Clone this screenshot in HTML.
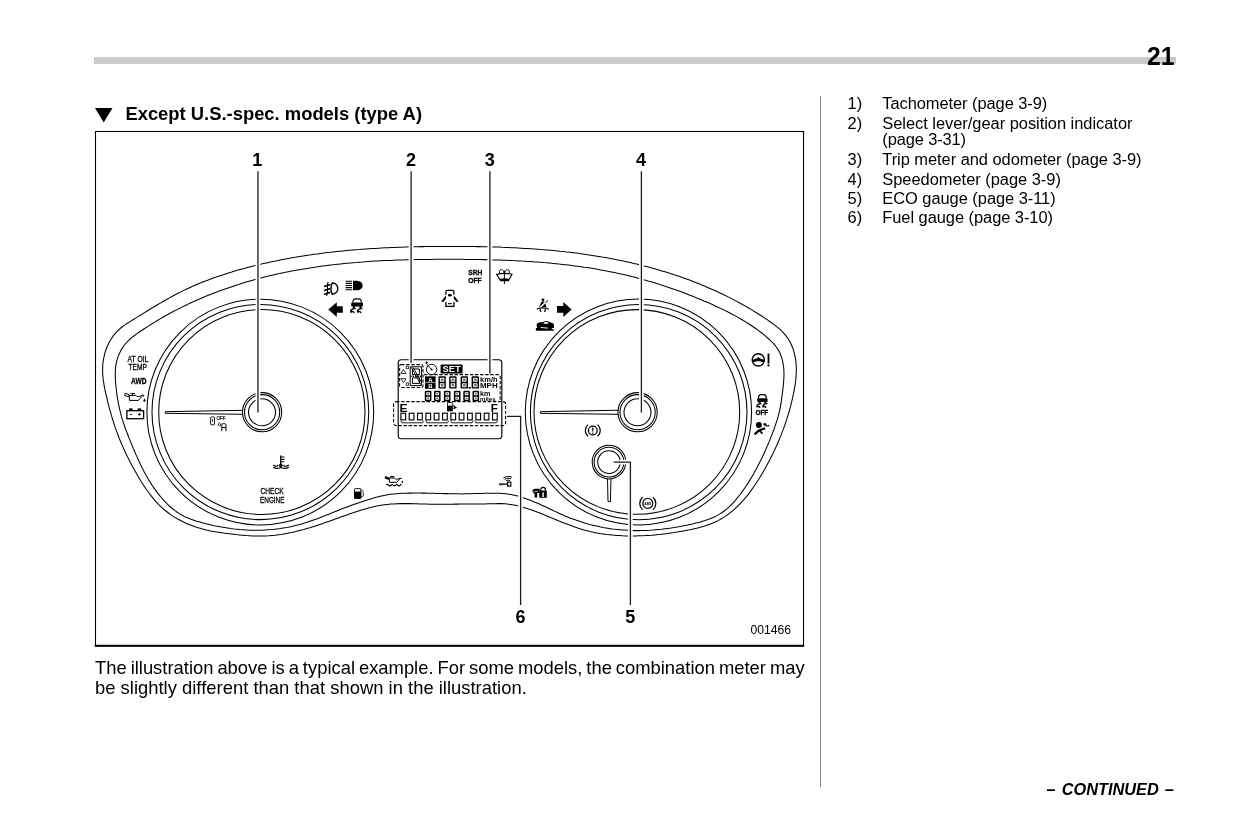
<!DOCTYPE html>
<html lang="en"><head><meta charset="utf-8"><title>Combination meter - type A</title>
<style>
html,body{margin:0;padding:0;background:#fff;}
body{width:1241px;height:827px;overflow:hidden;}
svg{display:block;filter:grayscale(1);}
text{font-family:"Liberation Sans",sans-serif;fill:#000;}
.b{font-weight:bold;}
.ln{fill:none;stroke:#000;stroke-width:1.05;}
.ld{fill:none;stroke:#1c1c1c;stroke-width:1.3;}
.ld2{fill:none;stroke:#000;stroke-width:1.2;}
.halo{fill:none;stroke:#fff;stroke-width:4.8;}
.tk{stroke:#000;stroke-width:0.3;}
.dash{fill:none;stroke:#000;stroke-width:1.05;stroke-dasharray:3.4 1.7;}
.ic{fill:#000;stroke:none;}
.st{fill:none;stroke:#000;stroke-width:1;}
</style></head><body>
<svg width="1241" height="827" viewBox="0 0 1241 827">
<rect x="0" y="0" width="1241" height="827" fill="#fff"/>
<rect x="94" y="57" width="1082" height="7" fill="#cbcbcb"/>
<text class="b" x="1147" y="65" font-size="26.4" textLength="27.5" lengthAdjust="spacingAndGlyphs">21</text>
<path d="M95 108H112.5L103.7 122.5Z" fill="#000"/>
<text class="b" x="125.4" y="120" font-size="18.4" textLength="296.6" lengthAdjust="spacing">Except U.S.-spec. models (type A)</text>
<rect x="820" y="96" width="1" height="691" fill="#878787"/>
<text x="847.5" y="109.3" font-size="16.45">1)</text><text x="882.3" y="109.3" font-size="16.45" textLength="165.0" lengthAdjust="spacing">Tachometer (page 3-9)</text>
<text x="847.5" y="128.7" font-size="16.45">2)</text><text x="882.3" y="128.7" font-size="16.45" textLength="250.2" lengthAdjust="spacing">Select lever/gear position indicator</text>
<text x="882.3" y="145.4" font-size="16.45" textLength="83.8" lengthAdjust="spacing">(page 3-31)</text>
<text x="847.5" y="164.8" font-size="16.45">3)</text><text x="882.3" y="164.8" font-size="16.45" textLength="259.2" lengthAdjust="spacing">Trip meter and odometer (page 3-9)</text>
<text x="847.5" y="184.6" font-size="16.45">4)</text><text x="882.3" y="184.6" font-size="16.45" textLength="178.6" lengthAdjust="spacing">Speedometer (page 3-9)</text>
<text x="847.5" y="203.5" font-size="16.45">5)</text><text x="882.3" y="203.5" font-size="16.45" textLength="173.4" lengthAdjust="spacing">ECO gauge (page 3-11)</text>
<text x="847.5" y="222.8" font-size="16.45">6)</text><text x="882.3" y="222.8" font-size="16.45" textLength="170.7" lengthAdjust="spacing">Fuel gauge (page 3-10)</text>
<text x="95" y="673.8" font-size="18.4" word-spacing="-1.16">The illustration above is a typical example. For some models, the combination meter may</text>
<text x="95" y="693.8" font-size="18.4" textLength="431.8" lengthAdjust="spacing">be slightly different than that shown in the illustration.</text>
<text class="b" x="1046.5" y="794.5" font-size="16.35" font-style="italic" word-spacing="1.5">– CONTINUED –</text>
<rect x="95.5" y="131.5" width="708" height="514.2" fill="none" stroke="#000" stroke-width="1.1"/>
<rect x="94.8" y="644.8" width="709.4" height="2" fill="#000"/>
<text x="750.4" y="633.8" font-size="12.15">001466</text>
<path class="ln" stroke-linejoin="round" d="M449.9 246.4L453.2 246.4L456.5 246.4L459.7 246.4L463.0 246.4L466.2 246.5L469.5 246.5L472.7 246.5L476.0 246.6L479.2 246.6L482.5 246.7L485.7 246.8L489.0 246.8L492.2 246.9L495.5 247.0L498.7 247.1L502.0 247.3L505.2 247.4L508.5 247.5L511.7 247.7L515.0 247.8L518.2 248.0L521.4 248.2L524.7 248.4L527.9 248.6L531.2 248.8L534.4 249.0L537.6 249.2L540.9 249.5L544.1 249.7L547.3 250.0L550.6 250.3L553.8 250.6L557.0 250.9L560.2 251.3L563.5 251.6L566.7 252.0L569.9 252.3L573.1 252.7L576.3 253.1L579.5 253.6L582.7 254.0L585.9 254.4L589.2 254.9L592.3 255.4L595.5 255.9L598.7 256.4L601.9 257.0L605.1 257.5L608.3 258.1L611.5 258.7L614.7 259.3L617.8 259.9L621.0 260.6L624.2 261.2L627.3 261.9L630.5 262.6L633.6 263.4L636.8 264.1L640.0 264.9L643.1 265.7L646.2 266.5L649.4 267.3L652.5 268.2L655.6 269.0L658.7 269.9L661.9 270.9L665.0 271.8L668.1 272.8L671.1 273.7L674.2 274.8L677.3 275.8L680.4 276.8L683.4 277.9L686.5 279.0L689.5 280.1L692.6 281.3L695.6 282.4L698.6 283.6L701.6 284.9L704.6 286.1L707.6 287.4L710.6 288.7L713.5 290.0L716.5 291.3L719.4 292.7L722.4 294.1L725.3 295.5L728.2 296.9L731.1 298.4L734.0 299.9L736.8 301.4L739.7 303.0L742.5 304.5L745.3 306.1L748.2 307.8L751.0 309.4L753.7 311.1L756.5 312.8L759.2 314.5L762.0 316.3L764.7 318.1L767.4 319.9L770.1 321.8L772.7 323.7L775.3 325.6L777.9 327.6L780.3 329.7L782.6 331.9L784.8 334.3L786.8 336.8L788.6 339.4L790.2 342.2L791.6 345.2L792.8 348.2L793.8 351.3L794.6 354.5L795.3 357.7L795.8 360.9L796.1 364.1L796.3 367.3L796.3 370.5L796.2 373.8L796.0 377.0L795.7 380.2L795.3 383.5L794.8 386.7L794.2 389.9L793.6 393.1L792.9 396.3L792.2 399.5L791.5 402.6L790.7 405.8L789.8 408.9L789.0 412.0L788.0 415.1L787.1 418.2L786.1 421.3L785.1 424.3L784.0 427.4L782.9 430.4L781.7 433.4L780.6 436.4L779.3 439.4L778.1 442.3L776.8 445.3L775.4 448.2L774.1 451.1L772.7 454.1L771.2 457.0L769.7 459.9L768.2 462.7L766.7 465.6L765.1 468.5L763.5 471.3L761.8 474.2L760.1 477.0L758.4 479.8L756.6 482.5L754.8 485.3L752.9 488.0L751.0 490.6L749.1 493.2L747.0 495.8L745.0 498.3L742.9 500.7L740.7 503.1L738.4 505.4L736.1 507.6L733.8 509.8L731.3 511.8L728.8 513.8L726.3 515.6L723.6 517.4L720.9 519.0L718.1 520.6L715.2 522.0L712.3 523.3L709.2 524.5L706.2 525.6L703.0 526.5L699.8 527.4L696.6 528.3L693.4 529.0L690.1 529.7L686.9 530.3L683.6 530.9L680.4 531.5L677.1 532.1L673.9 532.6L670.7 533.0L667.5 533.5L664.3 533.9L661.1 534.3L657.9 534.6L654.7 534.9L651.6 535.2L648.4 535.4L645.2 535.6L642.0 535.7L638.8 535.8L635.6 535.9L632.3 535.9L629.1 535.9L625.9 535.9L622.6 535.8L619.3 535.6L616.1 535.4L612.8 535.1L609.5 534.8L606.3 534.5L603.0 534.0L599.8 533.5L596.6 532.9L593.4 532.3L590.2 531.6L587.1 530.8L584.0 529.9L580.9 529.0L577.8 528.0L574.7 526.9L571.7 525.8L568.7 524.7L565.7 523.6L562.6 522.4L559.6 521.2L556.6 519.9L553.6 518.7L550.6 517.5L547.6 516.2L544.6 515.0L541.6 513.8L538.6 512.6L535.5 511.4L532.5 510.3L529.4 509.2L526.3 508.2L523.2 507.3L520.1 506.4L517.0 505.6L513.8 505.0L510.7 504.5L507.5 504.1L504.3 503.8L501.0 503.6L497.8 503.6L494.5 503.7L491.3 503.7L488.0 503.8L484.7 503.9L481.4 503.9L478.2 503.9L474.9 503.9L471.7 503.9L468.4 504.0L465.2 504.0L462.0 504.0L458.7 504.1L455.5 504.1L452.3 504.2L449.1 504.2L445.9 504.3L442.6 504.3L439.4 504.3L436.2 504.3L432.9 504.2L429.7 504.2L426.4 504.1L423.2 504.0L419.9 503.9L416.6 503.8L413.4 503.7L410.1 503.6L406.8 503.6L403.6 503.6L400.3 503.6L397.1 503.7L393.8 503.9L390.6 504.1L387.4 504.4L384.2 504.8L381.0 505.3L377.9 505.8L374.7 506.5L371.6 507.2L368.5 508.0L365.3 508.9L362.2 509.8L359.2 510.7L356.1 511.7L353.0 512.8L349.9 513.8L346.8 514.9L343.8 516.0L340.7 517.1L337.6 518.2L334.6 519.3L331.5 520.4L328.4 521.5L325.3 522.6L322.3 523.7L319.2 524.7L316.1 525.7L313.0 526.7L309.9 527.7L306.8 528.6L303.7 529.5L300.6 530.3L297.4 531.1L294.3 531.9L291.2 532.6L288.0 533.2L284.9 533.8L281.7 534.4L278.5 534.8L275.3 535.2L272.1 535.5L268.9 535.8L265.6 535.9L262.4 536.0L259.1 536.0L255.9 536.0L252.6 535.9L249.3 535.7L246.1 535.5L242.8 535.2L239.5 534.9L236.3 534.6L233.0 534.2L229.8 533.8L226.5 533.4L223.3 533.0L220.1 532.5L216.9 532.0L213.7 531.5L210.6 530.9L207.4 530.2L204.3 529.4L201.2 528.6L198.1 527.7L195.0 526.7L192.0 525.6L188.9 524.4L185.9 523.2L183.0 521.8L180.1 520.3L177.2 518.8L174.4 517.1L171.7 515.4L169.1 513.5L166.5 511.5L164.0 509.5L161.6 507.4L159.3 505.1L157.1 502.8L154.9 500.4L152.8 497.9L150.8 495.4L148.8 492.8L146.9 490.2L145.1 487.5L143.3 484.7L141.5 482.0L139.8 479.2L138.1 476.4L136.5 473.6L134.9 470.8L133.3 467.9L131.7 465.1L130.2 462.2L128.8 459.3L127.3 456.4L125.9 453.5L124.5 450.5L123.2 447.6L121.9 444.6L120.7 441.7L119.4 438.7L118.3 435.7L117.1 432.6L116.0 429.6L114.9 426.6L113.9 423.5L112.9 420.4L112.0 417.3L111.1 414.2L110.2 411.1L109.3 408.0L108.5 404.8L107.7 401.7L107.0 398.5L106.2 395.3L105.5 392.2L104.8 389.0L104.2 385.8L103.7 382.6L103.2 379.4L102.9 376.2L102.6 372.9L102.6 369.7L102.7 366.5L102.9 363.2L103.4 360.0L104.0 356.8L104.7 353.6L105.7 350.5L106.8 347.5L108.1 344.5L109.6 341.6L111.2 338.9L113.0 336.2L115.0 333.7L117.2 331.3L119.5 329.1L122.0 327.0L124.6 325.1L127.4 323.3L130.1 321.6L132.9 319.8L135.7 318.1L138.5 316.4L141.3 314.7L144.1 312.9L146.8 311.2L149.6 309.5L152.3 307.8L155.1 306.2L157.9 304.5L160.7 302.9L163.4 301.3L166.2 299.7L169.0 298.1L171.9 296.5L174.7 295.0L177.5 293.5L180.4 292.1L183.3 290.6L186.2 289.2L189.1 287.9L192.1 286.6L195.0 285.3L198.0 284.0L201.0 282.8L204.0 281.6L207.1 280.4L210.1 279.2L213.2 278.1L216.2 277.0L219.3 276.0L222.4 274.9L225.5 273.9L228.6 272.9L231.7 272.0L234.8 271.0L238.0 270.1L241.1 269.2L244.3 268.4L247.4 267.5L250.6 266.7L253.7 265.9L256.9 265.1L260.0 264.4L263.2 263.6L266.4 262.9L269.5 262.2L272.7 261.5L275.9 260.9L279.1 260.2L282.3 259.6L285.4 259.0L288.6 258.4L291.8 257.8L295.0 257.3L298.2 256.7L301.4 256.2L304.6 255.7L307.8 255.2L311.0 254.8L314.2 254.3L317.4 253.9L320.6 253.4L323.8 253.0L327.0 252.6L330.2 252.3L333.4 251.9L336.6 251.5L339.9 251.2L343.1 250.9L346.3 250.6L349.5 250.3L352.7 250.0L356.0 249.7L359.2 249.5L362.4 249.2L365.6 249.0L368.9 248.8L372.1 248.6L375.3 248.4L378.6 248.2L381.8 248.0L385.0 247.8L388.3 247.7L391.5 247.5L394.8 247.4L398.0 247.3L401.2 247.2L404.5 247.1L407.7 247.0L411.0 246.9L414.2 246.8L417.5 246.7L420.7 246.6L424.0 246.6L427.2 246.5L430.4 246.5L433.7 246.5L436.9 246.4L440.2 246.4L443.4 246.4L446.7 246.4Z"/>
<path class="ln" stroke-linejoin="round" d="M450.0 259.3L453.1 259.3L456.2 259.3L459.4 259.3L462.5 259.3L465.6 259.4L468.8 259.4L471.9 259.4L475.0 259.5L478.2 259.5L481.3 259.6L484.4 259.6L487.6 259.7L490.7 259.8L493.8 259.9L496.9 260.0L500.1 260.1L503.2 260.2L506.3 260.3L509.5 260.4L512.6 260.6L515.7 260.7L518.8 260.9L521.9 261.1L525.1 261.2L528.2 261.4L531.3 261.6L534.4 261.9L537.5 262.1L540.6 262.3L543.7 262.6L546.8 262.8L549.9 263.1L553.1 263.4L556.2 263.7L559.2 264.1L562.3 264.4L565.4 264.7L568.5 265.1L571.6 265.5L574.7 265.9L577.8 266.3L580.9 266.7L584.0 267.2L587.0 267.6L590.1 268.1L593.2 268.6L596.2 269.1L599.3 269.7L602.4 270.2L605.4 270.8L608.5 271.4L611.5 272.0L614.6 272.6L617.6 273.3L620.7 273.9L623.7 274.6L626.7 275.3L629.8 276.0L632.8 276.8L635.8 277.6L638.8 278.4L641.8 279.2L644.8 280.0L647.8 280.9L650.8 281.7L653.8 282.6L656.8 283.5L659.8 284.5L662.8 285.4L665.8 286.4L668.7 287.4L671.7 288.4L674.6 289.5L677.6 290.5L680.5 291.6L683.5 292.7L686.4 293.8L689.3 294.9L692.2 296.1L695.1 297.3L698.1 298.4L700.9 299.6L703.8 300.9L706.7 302.1L709.6 303.3L712.4 304.6L715.3 305.9L718.1 307.2L721.0 308.6L723.8 309.9L726.6 311.3L729.4 312.7L732.1 314.2L734.9 315.6L737.6 317.1L740.3 318.7L743.0 320.3L745.7 321.9L748.3 323.5L750.9 325.2L753.5 327.0L756.1 328.8L758.6 330.6L761.1 332.5L763.5 334.4L765.9 336.4L768.3 338.5L770.6 340.6L772.8 342.8L774.9 345.1L776.7 347.5L778.4 350.1L779.8 352.8L781.0 355.7L782.0 358.6L782.7 361.6L783.3 364.7L783.7 367.8L783.9 371.0L784.0 374.1L783.9 377.3L783.7 380.4L783.5 383.6L783.2 386.7L782.8 389.8L782.4 392.9L782.0 396.0L781.6 399.1L781.2 402.2L780.6 405.3L780.1 408.3L779.4 411.4L778.7 414.4L777.8 417.4L777.0 420.4L776.0 423.3L775.0 426.3L774.0 429.2L772.9 432.1L771.8 435.1L770.6 438.0L769.5 440.9L768.3 443.7L767.0 446.6L765.8 449.5L764.5 452.3L763.2 455.2L761.9 458.0L760.5 460.8L759.1 463.6L757.7 466.3L756.2 469.1L754.7 471.8L753.2 474.6L751.6 477.2L750.0 479.9L748.3 482.6L746.6 485.2L744.9 487.8L743.1 490.4L741.2 493.0L739.3 495.5L737.4 497.9L735.4 500.3L733.3 502.7L731.1 504.9L728.9 507.1L726.6 509.1L724.2 511.0L721.7 512.8L719.1 514.4L716.4 515.9L713.7 517.3L710.8 518.5L707.9 519.6L705.0 520.6L701.9 521.5L698.9 522.4L695.8 523.1L692.7 523.9L689.6 524.5L686.5 525.2L683.4 525.8L680.3 526.4L677.2 526.9L674.1 527.5L671.0 528.0L667.9 528.4L664.8 528.8L661.7 529.2L658.6 529.5L655.5 529.8L652.4 530.1L649.3 530.3L646.2 530.4L643.1 530.5L640.0 530.6L636.9 530.6L633.8 530.6L630.7 530.5L627.6 530.3L624.5 530.1L621.4 529.9L618.3 529.6L615.3 529.3L612.2 528.9L609.1 528.4L606.0 527.9L603.0 527.4L599.9 526.8L596.8 526.1L593.8 525.4L590.8 524.7L587.8 523.9L584.8 523.0L581.8 522.1L578.8 521.1L575.8 520.1L572.9 519.0L569.9 517.9L567.0 516.7L564.1 515.5L561.2 514.2L558.4 512.9L555.5 511.6L552.6 510.2L549.8 508.9L546.9 507.5L544.1 506.2L541.2 504.9L538.4 503.6L535.5 502.4L532.6 501.2L529.7 500.0L526.8 498.9L523.9 497.9L521.0 497.0L518.0 496.1L515.1 495.4L512.1 494.8L509.1 494.2L506.0 493.8L502.9 493.5L499.8 493.3L496.7 493.2L493.6 493.2L490.5 493.2L487.3 493.2L484.2 493.3L481.0 493.4L477.8 493.5L474.7 493.6L471.5 493.7L468.3 493.8L465.2 493.8L462.0 493.9L458.9 493.8L455.8 493.8L452.6 493.8L449.5 493.7L446.4 493.6L443.3 493.6L440.2 493.5L437.1 493.4L434.0 493.3L430.8 493.2L427.7 493.2L424.6 493.1L421.5 493.1L418.4 493.0L415.3 493.0L412.2 493.1L409.1 493.1L406.0 493.2L402.9 493.3L399.8 493.5L396.6 493.7L393.5 494.0L390.4 494.3L387.3 494.8L384.3 495.4L381.2 496.0L378.2 496.8L375.2 497.6L372.2 498.5L369.2 499.4L366.2 500.3L363.3 501.3L360.3 502.3L357.4 503.3L354.4 504.3L351.5 505.3L348.6 506.4L345.7 507.5L342.7 508.6L339.8 509.7L336.9 510.9L334.0 512.1L331.1 513.2L328.2 514.4L325.3 515.6L322.3 516.7L319.4 517.9L316.5 519.0L313.5 520.1L310.6 521.1L307.6 522.1L304.7 523.1L301.7 523.9L298.7 524.8L295.6 525.5L292.6 526.2L289.6 526.9L286.5 527.5L283.4 528.0L280.4 528.5L277.3 528.9L274.2 529.3L271.1 529.6L268.0 529.8L264.9 530.0L261.8 530.2L258.7 530.2L255.6 530.3L252.4 530.2L249.3 530.2L246.2 530.0L243.1 529.8L240.0 529.6L236.9 529.3L233.8 529.0L230.7 528.6L227.6 528.1L224.5 527.6L221.4 527.1L218.3 526.5L215.3 525.9L212.2 525.2L209.1 524.5L206.1 523.8L203.0 523.0L200.0 522.1L196.9 521.3L193.9 520.3L191.0 519.3L188.1 518.1L185.2 516.9L182.5 515.5L179.8 513.9L177.2 512.2L174.7 510.4L172.3 508.5L169.9 506.5L167.6 504.4L165.4 502.1L163.3 499.9L161.3 497.5L159.3 495.1L157.3 492.6L155.5 490.1L153.7 487.6L151.9 485.0L150.3 482.4L148.6 479.7L147.1 477.0L145.5 474.3L144.0 471.5L142.6 468.8L141.2 466.0L139.8 463.1L138.5 460.3L137.2 457.4L135.9 454.6L134.7 451.7L133.4 448.8L132.2 445.9L131.1 443.0L129.9 440.1L128.7 437.2L127.6 434.3L126.5 431.4L125.4 428.5L124.4 425.5L123.4 422.6L122.4 419.7L121.5 416.7L120.7 413.7L120.0 410.7L119.3 407.7L118.6 404.6L118.1 401.6L117.5 398.5L117.1 395.4L116.6 392.3L116.3 389.2L115.9 386.0L115.6 382.9L115.4 379.7L115.3 376.6L115.3 373.5L115.4 370.3L115.6 367.2L116.1 364.2L116.7 361.1L117.6 358.1L118.6 355.2L119.9 352.4L121.4 349.6L123.0 347.0L124.8 344.5L126.9 342.2L129.1 340.0L131.4 337.9L133.9 336.0L136.4 334.1L139.0 332.3L141.6 330.5L144.2 328.8L146.8 327.1L149.5 325.4L152.1 323.7L154.8 322.1L157.4 320.5L160.1 318.9L162.8 317.3L165.5 315.8L168.3 314.3L171.0 312.8L173.7 311.3L176.5 309.9L179.3 308.5L182.0 307.1L184.8 305.7L187.6 304.4L190.4 303.0L193.3 301.7L196.1 300.5L199.0 299.2L201.8 298.0L204.7 296.8L207.6 295.6L210.5 294.4L213.4 293.3L216.3 292.2L219.2 291.1L222.2 290.0L225.1 288.9L228.1 287.9L231.1 286.9L234.0 285.9L237.0 284.9L240.0 284.0L243.0 283.0L246.0 282.1L249.0 281.2L252.0 280.4L255.1 279.5L258.1 278.7L261.1 277.9L264.1 277.1L267.2 276.4L270.2 275.6L273.3 274.9L276.3 274.2L279.3 273.6L282.4 272.9L285.4 272.3L288.5 271.7L291.6 271.1L294.6 270.5L297.7 269.9L300.7 269.4L303.8 268.9L306.9 268.4L309.9 267.9L313.0 267.4L316.1 267.0L319.2 266.5L322.3 266.1L325.3 265.7L328.4 265.3L331.5 264.9L334.6 264.6L337.7 264.2L340.8 263.9L343.9 263.6L347.0 263.3L350.1 263.0L353.2 262.7L356.3 262.5L359.4 262.2L362.5 262.0L365.6 261.7L368.7 261.5L371.8 261.3L375.0 261.1L378.1 261.0L381.2 260.8L384.3 260.6L387.4 260.5L390.5 260.4L393.7 260.2L396.8 260.1L399.9 260.0L403.0 259.9L406.1 259.8L409.3 259.7L412.4 259.7L415.5 259.6L418.7 259.5L421.8 259.5L424.9 259.4L428.0 259.4L431.2 259.4L434.3 259.3L437.4 259.3L440.6 259.3L443.7 259.3L446.8 259.3Z"/>
<ellipse class="ln" cx="260.30" cy="412.10" rx="113.40" ry="112.90"/><ellipse class="ln" cx="260.35" cy="412.00" rx="108.35" ry="107.60"/><ellipse class="ln" cx="261.85" cy="412.00" rx="103.15" ry="102.50"/>
<ellipse class="ln" cx="638.45" cy="412.05" rx="113.15" ry="112.95"/><ellipse class="ln" cx="638.70" cy="412.10" rx="108.30" ry="107.60"/><ellipse class="ln" cx="636.85" cy="411.95" rx="102.85" ry="102.35"/>

<!-- hubs and needles -->
<g fill="#fff" stroke="#000" stroke-width="1.05">
<path d="M165.3 411.7L244 410.3V414.3L165.3 413.3Z" stroke-width="1"/>
<circle cx="262.1" cy="412.2" r="19.6"/><circle cx="262.1" cy="412.2" r="17.6" fill="none"/><circle cx="262" cy="412.3" r="13.5" fill="none"/>
<path d="M540.4 411.7L619.4 410.2V414.3L540.4 413.3Z" stroke-width="1"/>
<circle cx="637.6" cy="412.2" r="19.6"/><circle cx="637.6" cy="412.2" r="17.6" fill="none"/><circle cx="637.5" cy="412.3" r="13.5" fill="none"/>
<path d="M607.5 478L608 501.6H610.4L611 478Z" stroke-width="1"/>
<circle cx="609" cy="462.1" r="16.8"/><circle cx="609" cy="462.1" r="14.9" fill="none"/><circle cx="609" cy="462.1" r="11.3" fill="none"/>
</g>
<!-- ===== indicator icons ===== -->
<g id="left-col">
<text class="tk" x="127.6" y="361.5" font-size="8.8" textLength="20.8" lengthAdjust="spacingAndGlyphs">AT OIL</text>
<text class="tk" x="128.5" y="369.8" font-size="8.8" textLength="18.4" lengthAdjust="spacingAndGlyphs">TEMP</text>
<text class="b tk" x="131" y="384.3" font-size="8.4" textLength="15.4" lengthAdjust="spacingAndGlyphs">AWD</text>
<!-- oil can -->
<path class="st" stroke-width="1.25" stroke-linejoin="round" d="M125.2 393.2L129.2 394.7L128.5 396.7L124.5 395.5ZM130.4 393.4H134.9M132.6 393.4V395.4M129.4 395.5L136 395.3L137 396.5L140.1 396.3L141.9 395.2H143.7V396.6M142.3 396L138.4 400.4H129.4V395.5"/>
<path class="ic" d="M144.45 398.3L145.6 400.4C145.7 401.3 145.1 401.8 144.45 401.8C143.8 401.8 143.2 401.3 143.3 400.4Z"/>
<!-- battery -->
<rect x="126.9" y="410.7" width="16.7" height="8" fill="none" stroke="#000" stroke-width="1.3"/>
<rect class="ic" x="129" y="408.4" width="3.6" height="2.3"/><rect class="ic" x="137.6" y="408.4" width="3.6" height="2.3"/>
<path d="M129.8 414.4H132.2M138 414.4H140.8M139.4 413V415.8" stroke="#000" stroke-width="0.9" fill="none"/>
</g>
<g id="top-left">
<!-- front fog light -->
<path d="M332.2 283C339.6 283.2 339.6 294 332.2 294.2C330.8 291 330.8 286.2 332.2 283Z" fill="none" stroke="#000" stroke-width="1.4"/>
<path d="M330.4 284.4L324 286.6M330.4 288.4L324 290.6M330.4 292.3L324 294.5" stroke="#000" stroke-width="1.6" fill="none"/>
<path d="M328.2 282C325.6 286 329.4 290.5 326.6 295.6" stroke="#000" stroke-width="1.2" fill="none"/>
<!-- high beam -->
<path class="ic" d="M353 280.7H356.8C364.6 280.9 364.6 290.1 356.8 290.3H353Z"/>
<path d="M345.6 281.3H352M345.6 283.4H352M345.6 285.5H352M345.6 287.6H352M345.6 289.7H352" stroke="#000" stroke-width="1.1" fill="none"/>
<!-- left arrow -->
<path class="ic" d="M328.3 309.6L336.8 302.3V306.3H342.8V312.8H336.8V317Z"/>
<!-- skid -->
<path d="M352.8 302.6C353 299.6 354 298.9 355.4 298.9H358.8C360.2 298.9 361.2 299.6 361.4 302.6" fill="none" stroke="#000" stroke-width="1.1"/>
<path class="ic" d="M351.2 303.6C351.2 302.8 351.8 302.4 352.6 302.4H361.6C362.4 302.4 363 302.8 363 303.6V305.6C363 306.2 362.6 306.6 362 306.6H361.4V308.2H359.4V306.6H354.8V308.2H352.8V306.6H352.2C351.6 306.6 351.2 306.2 351.2 305.6Z"/>
<path d="M355.2 308.4C352.4 308.6 351 309.8 350.6 311M350.8 312.1C352.2 311.2 353.8 311.4 354 312.6M362 308.4C359.2 308.6 357.8 309.8 357.4 311M357.6 312.1C359 311.2 360.6 311.4 360.8 312.6" fill="none" stroke="#000" stroke-width="1.35" stroke-linecap="round"/>
</g>
<g id="top-mid">
<!-- door ajar -->
<path d="M445.9 294.8V291.7C445.9 290.7 446.5 290.3 447.5 290.3H452.3C453.3 290.3 453.9 290.7 453.9 291.7V294.8" fill="none" stroke="#000" stroke-width="1.3"/>
<ellipse class="ic" cx="449.9" cy="295.3" rx="2.1" ry="1.25"/>
<path class="ic" d="M445.9 295.6L446.1 298.4L443.4 301.9L441.1 301.6ZM453.9 295.6L453.7 298.4L456.4 301.9L458.7 301.6Z"/>
<path d="M445.9 302.1V306.4H453.9V302.1" fill="none" stroke="#000" stroke-width="1.3"/>
<rect class="ic" x="448" y="303.1" width="3.8" height="1.1"/>
<!-- SRH OFF -->
<text class="b tk" x="468.2" y="275" font-size="7.1" textLength="14.1" lengthAdjust="spacingAndGlyphs">SRH</text>
<text class="b tk" x="468.2" y="282.6" font-size="7.1" textLength="13.4" lengthAdjust="spacingAndGlyphs">OFF</text>
<!-- washer -->
<path d="M496.6 274.4C501 273.2 507.8 273.2 512 274.4L508.4 280.6H500.6Z" fill="none" stroke="#000" stroke-width="1.1"/>
<path class="ic" d="M499.8 278.9C502.8 278.1 506.2 278.1 509.2 278.9L508.4 280.8H500.6Z"/>
<path d="M504.4 270.4V284M504.3 274.2C504 268.6 498.6 267.8 499.6 273M504.5 274.2C504.8 268.6 510.2 267.8 509.2 273" fill="none" stroke="#000" stroke-width="0.95"/>
</g>
<g id="top-right">
<!-- seat belt -->
<circle class="ic" cx="543" cy="299.8" r="1.4"/>
<path class="ic" d="M539.2 307.2L541.3 301.9C541.7 301.3 544.5 301.3 544.9 301.9L546.6 307.2Z"/>
<path d="M547.5 300.1L540.4 307.3" stroke="#fff" stroke-width="1.5" fill="none"/>
<path d="M547.9 300.2L545.9 302.3M548 300.6L545.6 303.1" stroke="#000" stroke-width="0.6" fill="none"/>
<path d="M536.8 309.3C539.4 307.3 546.2 307.3 548.8 309.3" stroke="#000" stroke-width="1.2" fill="none"/>
<path d="M540.2 309.2C540.2 310.4 540.5 311.2 541.1 311.8M545.4 309.2C545.4 310.4 545 311.2 544.3 311.8" stroke="#000" stroke-width="1.5" fill="none"/>
<!-- right arrow -->
<path class="ic" d="M571.6 309.6L563.3 302.1V306.1H557V312.8H563.3V317Z"/>
<!-- car -->
<path class="ic" d="M536.8 324C537.6 322.6 540 322.2 542.8 322.1L544.4 321.5C546.6 321 549 321.2 550.4 322.6C552.4 323 553.8 323.6 554 325V327.2C554 327.8 553.4 328 552.8 328H537.6C536.8 327.6 536.6 326.2 536.8 324Z"/>
<path d="M543.3 323.9L544.9 322C546.4 321.7 548 321.9 549 323.4Z" fill="#fff"/>
<path class="ic" d="M535.9 327.9H551.3L554.7 330.8H535.9Z"/>
<path d="M540.7 327.5L548 328.1" stroke="#fff" stroke-width="0.9"/>
</g>
<g id="right-col">
<!-- steering -->
<circle cx="758.3" cy="359.85" r="6.1" fill="none" stroke="#000" stroke-width="1.4"/>
<path class="ic" d="M752.4 359.8C754.8 359.4 756.8 358.4 758.3 357.1C759.8 358.4 761.8 359.4 764.2 359.8L764 362.8C762.4 361.8 760.4 361.3 758.3 361.3C756.2 361.3 754.2 361.8 752.6 362.8Z"/>
<path d="M768.5 353.6V363.6" stroke="#000" stroke-width="1.9" fill="none"/><circle class="ic" cx="768.5" cy="365.4" r="1.15"/>
<!-- skid off -->
<path d="M758.4 398.2C758.6 395.4 759.4 394.7 761 394.7H763.8C765.4 394.7 766.2 395.4 766.4 398.2" fill="none" stroke="#000" stroke-width="1.2"/>
<path class="ic" d="M757.2 399.2C757.2 398.6 757.8 398.2 758.4 398.2H766.4C767 398.2 767.6 398.6 767.6 399.2V401.2C767.6 401.8 767.2 402 766.8 402H766.2V403.6H764.2V402H760.6V403.6H758.6V402H758C757.6 402 757.2 401.8 757.2 401.2Z"/>
<path d="M761 403.6C758.4 403.8 757.2 404.8 756.8 406M757 406.9C758.2 406.2 759.6 406.4 759.8 407.4M767 403.6C764.4 403.8 763.2 404.8 762.8 406M763 406.9C764.2 406.2 765.6 406.4 765.8 407.4" fill="none" stroke="#000" stroke-width="1.3" stroke-linecap="round"/>
<text class="b tk" x="755.4" y="414.6" font-size="7.2" textLength="12.9" lengthAdjust="spacingAndGlyphs">OFF</text>
<!-- airbag -->
<circle class="ic" cx="758.9" cy="425" r="3"/>
<circle class="ic" cx="764.9" cy="424.3" r="1.4"/>
<path d="M765.4 425.2C766.8 426.4 768 426.2 769.2 425.2" fill="none" stroke="#000" stroke-width="1.2"/>
<path d="M754.6 434.4L759 430.4L765.2 428.2" fill="none" stroke="#000" stroke-width="2.1" stroke-linejoin="round"/>
<path d="M759.6 430.8L762.6 433.6" fill="none" stroke="#000" stroke-width="1.7"/>
</g>
<g id="tach-inner">
<!-- auto start stop off -->
<rect x="210.6" y="417" width="3.9" height="7.8" rx="0.6" fill="none" stroke="#000" stroke-width="0.9"/>
<path d="M212.5 419V422" stroke="#000" stroke-width="0.7"/>
<text x="216.6" y="420.4" font-size="5" textLength="9" lengthAdjust="spacingAndGlyphs" style="stroke:#000;stroke-width:0.2">OFF</text>
<path d="M218 425.6L219.4 422.4M219.8 426.6L221.2 423.4" stroke="#000" stroke-width="0.9" fill="none"/>
<path d="M221.8 431.2V425.4C221.8 424 222.6 423.6 223.9 423.6C225.2 423.6 226 424 226 425.4V431.2M221.8 427.6H226" fill="none" stroke="#000" stroke-width="1"/>
<!-- coolant temp -->
<path d="M280.8 455.4V465" stroke="#000" stroke-width="1.4" fill="none"/>
<path d="M281.4 457H284.4M281.4 459.4H284.4M281.4 461.8H284.4" stroke="#000" stroke-width="1.1" fill="none"/>
<circle class="ic" cx="280.8" cy="465.4" r="1.8"/>
<path d="M273.2 465C275 466.6 276.8 466.6 278.4 465.2M283.2 465.2C284.8 466.6 286.8 466.6 288.8 465M273.2 467.2C275.4 468.8 278 468.8 280.8 467.4C283.6 468.8 286.4 468.8 288.8 467.2" fill="none" stroke="#000" stroke-width="1.15"/>
<text class="tk" x="260.4" y="494.4" font-size="9" textLength="23.4" lengthAdjust="spacingAndGlyphs">CHECK</text>
<text class="tk" x="260.1" y="502.8" font-size="9" textLength="24.3" lengthAdjust="spacingAndGlyphs">ENGINE</text>
</g>
<g id="bottom-row">
<!-- fuel -->
<rect x="354.6" y="488.6" width="6.2" height="9.8" rx="0.6" fill="#fff" stroke="#000" stroke-width="0.9"/>
<rect class="ic" x="354.2" y="491.6" width="7" height="7"/>
<path d="M361 489.6C363.6 490.4 363.2 493 363.4 495C363.4 496.8 362 497.2 361.2 496.6" fill="none" stroke="#000" stroke-width="0.8"/>
<!-- oil level -->
<path d="M385.4 476.6L389.2 477.8L388.6 479.4L385.2 478.2Z" fill="#222" stroke="#000" stroke-width="0.9" stroke-linejoin="round"/>
<path class="st" stroke-width="1.2" stroke-linejoin="round" d="M390.2 476.5H394.3M392.1 476.5V478M389.4 478L394.5 478.1L396.3 479.5L397.9 478.8L401.8 478.3M399.6 479L396.9 482.3H389.4V478"/>
<path class="ic" d="M402.3 480.6L403.1 482C403.2 482.6 402.8 482.9 402.3 482.9C401.8 482.9 401.4 482.6 401.5 482Z"/>
<path d="M386.2 484.6C387.2 484.1 387.9 484.4 388.6 485.2C389.4 486 390.2 486 391 485.2C391.8 484.3 392.4 484.3 393.2 485.2C394 486 394.8 486 395.6 485.2C396.4 484.3 397 484.3 397.8 485.2C398.6 486 399.4 486 400.2 485.2C400.6 484.7 401 484.5 401.6 484.6" fill="none" stroke="#000" stroke-width="1.25"/>
<!-- key -->
<path d="M499 484.1H507.6" stroke="#000" stroke-width="1.3" fill="none"/>
<path d="M499 485.2L500 484.4L501 485.2L502 484.4L503 485.2" stroke="#000" stroke-width="0.6" fill="none"/>
<rect x="507.6" y="482.1" width="3.2" height="4" fill="none" stroke="#000" stroke-width="1.2"/>
<path d="M503.4 478.2C506 476 509.6 476 512 477.4M504.6 479.6C506.4 478 509.2 478 511 479M505.8 481C507 480 508.8 480 510 480.6" fill="none" stroke="#000" stroke-width="1"/>
<!-- security -->
<path class="ic" d="M532.4 490.6C532.8 489.2 534.4 488.8 536.4 488.8H539.6V493H537.2V497.6H534.6V493.4H533.4V491.6H532.2Z"/>
<rect class="ic" x="539.2" y="490.6" width="7.6" height="7.2"/>
<path d="M540.8 491V489.6C540.8 486.6 545.4 486.6 545.4 489.6V491" fill="none" stroke="#000" stroke-width="1.2"/>
<rect x="542.4" y="492.4" width="1.4" height="4.6" fill="#fff"/>
<path d="M534.2 491.4H538" stroke="#fff" stroke-width="0.7"/>
</g>
<g id="speedo-inner">
<!-- brake -->
<circle cx="592.8" cy="430.5" r="4.4" fill="none" stroke="#000" stroke-width="1.25"/>
<path d="M592.8 427.6V431.4M592.8 432.6V433.7" stroke="#000" stroke-width="1.2" fill="none"/>
<path d="M588 424.6C584.4 427.8 584.4 433.2 588 436.4M597.6 424.6C601.2 427.8 601.2 433.2 597.6 436.4" fill="none" stroke="#000" stroke-width="1.25"/>
<!-- ABS -->
<circle cx="647.8" cy="503.4" r="5" fill="none" stroke="#000" stroke-width="1.2"/>
<text class="b" x="644.2" y="505" font-size="4.4" textLength="7.2" lengthAdjust="spacingAndGlyphs">ABS</text>
<path d="M642.6 497.2C638.8 500.6 638.8 506.2 642.6 509.6M653 497.2C656.8 500.6 656.8 506.2 653 509.6" fill="none" stroke="#000" stroke-width="1.25"/>
</g>
<!-- ===== LCD display ===== -->
<g id="lcd">
<rect x="398.2" y="359.7" width="103.6" height="79" rx="3.2" fill="#fff" stroke="#000" stroke-width="1.15"/>
<rect class="dash" x="399.6" y="364.6" width="23.4" height="22.8" rx="1.5"/>
<path class="dash" d="M424 374.6H498.6Q500.2 374.6 500.2 376.2V401.4"/>
<rect class="dash" x="393.6" y="401.6" width="112" height="24" rx="2.4"/>
<path d="M400.8 373.4L403.4 369.5L406 373.4Z M400.8 378.7L403.4 382.6L406 378.7Z" fill="none" stroke="#000" stroke-width="0.8"/>
<rect x="406.2" y="366.3" width="2.4" height="2.4" fill="none" stroke="#000" stroke-width="0.7"/><rect x="406.2" y="382.9" width="2.4" height="2.4" fill="none" stroke="#000" stroke-width="0.7"/>
<path d="M410.2 366.8H421.6V385.6H410.2ZM412.4 369H419.4V374.6H412.4ZM412.4 377.8H419.4V383.4H412.4Z" fill="none" stroke="#000" stroke-width="1"/>
<path d="M410.2 376.2H421.6" stroke="#000" stroke-width="1.5" stroke-dasharray="1.4 1"/>
<path d="M411.4 367.4L421 384.8M413.2 367.4L421.6 382.6" fill="none" stroke="#000" stroke-width="0.9"/>
<circle cx="431.6" cy="369.5" r="5.2" fill="none" stroke="#000" stroke-width="1"/><path d="M425.4 362.6L431.4 369.4" stroke="#000" stroke-width="0.9"/><circle class="ic" cx="431.6" cy="369.6" r="1"/><path d="M426 361.8L427.6 363.2" stroke="#000" stroke-width="1.4"/>
<rect class="ic" x="440.6" y="364.4" width="22" height="9.2" rx="0.8"/><text class="b" x="442.6" y="372.4" font-size="9.4" textLength="18" lengthAdjust="spacingAndGlyphs" style="fill:#fff">SET</text>
<rect class="ic" x="425" y="376.3" width="10.6" height="12.5"/><path d="M425 382.6H435.6" stroke="#fff" stroke-width="0.6"/><text class="b" x="428.2" y="382" font-size="6" style="fill:#fff">A</text><text class="b" x="428.2" y="388.4" font-size="6" style="fill:#fff">B</text>
<rect class="ic" x="438.40" y="376.30" width="7.40" height="12.30" rx="1.2"/><rect x="439.85" y="377.75" width="4.50" height="3.98" rx="0.4" fill="#fff"/><rect x="439.85" y="383.18" width="4.50" height="3.98" rx="0.4" fill="#fff"/><rect x="440.75" y="378.55" width="2.70" height="2.38" fill="#000" opacity="0.55"/><rect x="440.75" y="383.98" width="2.70" height="2.38" fill="#000" opacity="0.55"/><rect class="ic" x="449.20" y="376.30" width="7.40" height="12.30" rx="1.2"/><rect x="450.65" y="377.75" width="4.50" height="3.98" rx="0.4" fill="#fff"/><rect x="450.65" y="383.18" width="4.50" height="3.98" rx="0.4" fill="#fff"/><rect x="451.55" y="378.55" width="2.70" height="2.38" fill="#000" opacity="0.55"/><rect x="451.55" y="383.98" width="2.70" height="2.38" fill="#000" opacity="0.55"/><rect class="ic" x="460.60" y="376.30" width="7.40" height="12.30" rx="1.2"/><rect x="462.05" y="377.75" width="4.50" height="3.98" rx="0.4" fill="#fff"/><rect x="462.05" y="383.18" width="4.50" height="3.98" rx="0.4" fill="#fff"/><rect x="462.95" y="378.55" width="2.70" height="2.38" fill="#000" opacity="0.55"/><rect x="462.95" y="383.98" width="2.70" height="2.38" fill="#000" opacity="0.55"/><rect class="ic" x="471.60" y="376.30" width="7.40" height="12.30" rx="1.2"/><rect x="473.05" y="377.75" width="4.50" height="3.98" rx="0.4" fill="#fff"/><rect x="473.05" y="383.18" width="4.50" height="3.98" rx="0.4" fill="#fff"/><rect x="473.95" y="378.55" width="2.70" height="2.38" fill="#000" opacity="0.55"/><rect x="473.95" y="383.98" width="2.70" height="2.38" fill="#000" opacity="0.55"/><rect class="ic" x="468.6" y="387" width="2.2" height="1.6"/>
<text class="b" x="480" y="382.4" font-size="7.2" textLength="17.6" lengthAdjust="spacingAndGlyphs">km/h</text><text class="b" x="480" y="388.4" font-size="6.6" textLength="17.6" lengthAdjust="spacingAndGlyphs">MPH</text>
<rect class="ic" x="424.80" y="390.70" width="6.60" height="10.50" rx="1.2"/><rect x="426.25" y="392.15" width="3.70" height="3.08" rx="0.4" fill="#fff"/><rect x="426.25" y="396.68" width="3.70" height="3.08" rx="0.4" fill="#fff"/><rect x="427.15" y="392.95" width="1.90" height="1.48" fill="#000" opacity="0.55"/><rect x="427.15" y="397.48" width="1.90" height="1.48" fill="#000" opacity="0.55"/><rect class="ic" x="434.00" y="390.70" width="6.60" height="10.50" rx="1.2"/><rect x="435.45" y="392.15" width="3.70" height="3.08" rx="0.4" fill="#fff"/><rect x="435.45" y="396.68" width="3.70" height="3.08" rx="0.4" fill="#fff"/><rect x="436.35" y="392.95" width="1.90" height="1.48" fill="#000" opacity="0.55"/><rect x="436.35" y="397.48" width="1.90" height="1.48" fill="#000" opacity="0.55"/><rect class="ic" x="443.90" y="390.70" width="6.60" height="10.50" rx="1.2"/><rect x="445.35" y="392.15" width="3.70" height="3.08" rx="0.4" fill="#fff"/><rect x="445.35" y="396.68" width="3.70" height="3.08" rx="0.4" fill="#fff"/><rect x="446.25" y="392.95" width="1.90" height="1.48" fill="#000" opacity="0.55"/><rect x="446.25" y="397.48" width="1.90" height="1.48" fill="#000" opacity="0.55"/><rect class="ic" x="453.90" y="390.70" width="6.60" height="10.50" rx="1.2"/><rect x="455.35" y="392.15" width="3.70" height="3.08" rx="0.4" fill="#fff"/><rect x="455.35" y="396.68" width="3.70" height="3.08" rx="0.4" fill="#fff"/><rect x="456.25" y="392.95" width="1.90" height="1.48" fill="#000" opacity="0.55"/><rect x="456.25" y="397.48" width="1.90" height="1.48" fill="#000" opacity="0.55"/><rect class="ic" x="463.30" y="390.70" width="6.60" height="10.50" rx="1.2"/><rect x="464.75" y="392.15" width="3.70" height="3.08" rx="0.4" fill="#fff"/><rect x="464.75" y="396.68" width="3.70" height="3.08" rx="0.4" fill="#fff"/><rect x="465.65" y="392.95" width="1.90" height="1.48" fill="#000" opacity="0.55"/><rect x="465.65" y="397.48" width="1.90" height="1.48" fill="#000" opacity="0.55"/><rect class="ic" x="472.50" y="390.70" width="6.60" height="10.50" rx="1.2"/><rect x="473.95" y="392.15" width="3.70" height="3.08" rx="0.4" fill="#fff"/><rect x="473.95" y="396.68" width="3.70" height="3.08" rx="0.4" fill="#fff"/><rect x="474.85" y="392.95" width="1.90" height="1.48" fill="#000" opacity="0.55"/><rect x="474.85" y="397.48" width="1.90" height="1.48" fill="#000" opacity="0.55"/>
<text class="b" x="480" y="395.8" font-size="6.6" textLength="10.4" lengthAdjust="spacingAndGlyphs">km</text><text class="b" x="480" y="401.2" font-size="6.2" textLength="15.6" lengthAdjust="spacingAndGlyphs">miles</text>
<text class="b" x="399.6" y="411.6" font-size="10.4" textLength="8.2" lengthAdjust="spacingAndGlyphs">E</text><text class="b" x="490.8" y="411.6" font-size="10.4" textLength="7" lengthAdjust="spacingAndGlyphs">F</text>
<rect x="447.6" y="402.6" width="4.6" height="8.2" fill="#fff" stroke="#000" stroke-width="0.8"/><rect class="ic" x="447.2" y="405.6" width="5.4" height="5.6"/><path d="M452.6 404.4C454 405 453.8 407 453.8 409" fill="none" stroke="#000" stroke-width="0.7"/><path class="ic" d="M454.2 405.6L457 407.4L454.2 409.2Z"/>
<rect x="400.90" y="413.2" width="4.7" height="6.7" fill="none" stroke="#000" stroke-width="1.15"/><rect x="409.23" y="413.2" width="4.7" height="6.7" fill="none" stroke="#000" stroke-width="1.15"/><rect x="417.56" y="413.2" width="4.7" height="6.7" fill="none" stroke="#000" stroke-width="1.15"/><rect x="425.89" y="413.2" width="4.7" height="6.7" fill="none" stroke="#000" stroke-width="1.15"/><rect x="434.22" y="413.2" width="4.7" height="6.7" fill="none" stroke="#000" stroke-width="1.15"/><rect x="442.55" y="413.2" width="4.7" height="6.7" fill="none" stroke="#000" stroke-width="1.15"/><rect x="450.88" y="413.2" width="4.7" height="6.7" fill="none" stroke="#000" stroke-width="1.15"/><rect x="459.21" y="413.2" width="4.7" height="6.7" fill="none" stroke="#000" stroke-width="1.15"/><rect x="467.54" y="413.2" width="4.7" height="6.7" fill="none" stroke="#000" stroke-width="1.15"/><rect x="475.87" y="413.2" width="4.7" height="6.7" fill="none" stroke="#000" stroke-width="1.15"/><rect x="484.20" y="413.2" width="4.7" height="6.7" fill="none" stroke="#000" stroke-width="1.15"/><rect x="492.53" y="413.2" width="4.7" height="6.7" fill="none" stroke="#000" stroke-width="1.15"/>
<path d="M400.8 420.8L401.8 422.8H422.6L423.6 420.8" fill="none" stroke="#000" stroke-width="0.9"/><path d="M425.8 420.8L426.8 422.8H447.6L448.6 420.8" fill="none" stroke="#000" stroke-width="0.9"/><path d="M450.8 420.8L451.8 422.8H472.0L473.0 420.8" fill="none" stroke="#000" stroke-width="0.9"/><path d="M474.6 420.8L475.6 422.8H496.4L497.4 420.8" fill="none" stroke="#000" stroke-width="0.9"/>
</g>

<!-- leader lines -->
<g>
<path class="halo" d="M257.95 172V409"/><path class="ld" d="M257.95 171.3V412.6"/>
<path class="halo" d="M411.1 172V362"/><path class="ld" d="M411.1 171.3V363"/>
<path class="halo" d="M489.9 172V372"/><path class="ld" d="M489.9 171.3V373.8"/>
<path class="halo" d="M641.4 172V409"/><path class="ld" d="M641.4 171.3V412.6"/>
<path class="halo" d="M520.6 418V604"/><path class="ld" d="M507 416.3H520.6V605"/>
<path class="halo" d="M619.5 462.2H630.4V604" stroke-linejoin="miter"/><path class="ld" d="M613.6 462.2H630.4V605"/>
</g>
<text class="b" x="252.3" y="165.5" font-size="18">1</text>
<text class="b" x="405.9" y="165.5" font-size="18">2</text>
<text class="b" x="484.8" y="165.5" font-size="18">3</text>
<text class="b" x="635.9" y="165.5" font-size="18">4</text>
<text class="b" x="515.4" y="623.2" font-size="18">6</text>
<text class="b" x="625.2" y="623.2" font-size="18">5</text>
</svg>
</body></html>
